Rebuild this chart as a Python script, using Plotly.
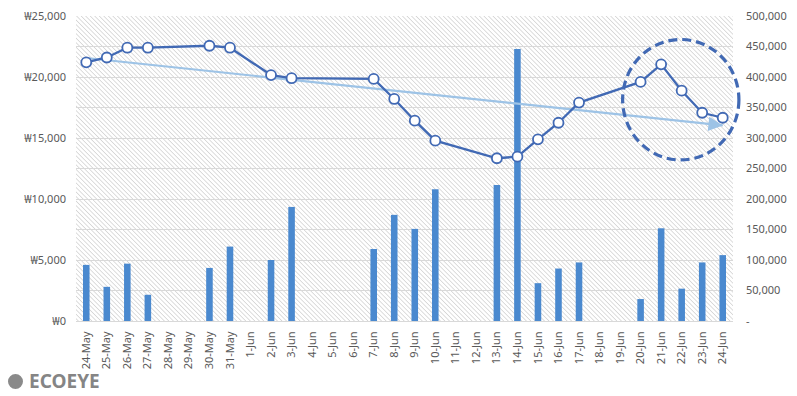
import base64
import numpy as np
import plotly.graph_objects as go

# ---- data ----
dates = ["24-May", "25-May", "26-May", "27-May", "28-May", "29-May", "30-May", "31-May",
         "1-Jun", "2-Jun", "3-Jun", "4-Jun", "5-Jun", "6-Jun", "7-Jun", "8-Jun", "9-Jun",
         "10-Jun", "11-Jun", "12-Jun", "13-Jun", "14-Jun", "15-Jun", "16-Jun", "17-Jun",
         "18-Jun", "19-Jun", "20-Jun", "21-Jun", "22-Jun", "23-Jun", "24-Jun"]

price = [21200, 21600, 22400, 22400, None, None, 22560, 22400,
         None, 20160, 19900, None, None, None, 19840, 18200, 16420,
         14780, None, None, 13340, 13470, 14890, 16250, 17900,
         None, None, 19600, 21040, 18880, 17070, 16660]

volume = [92000, 56000, 94000, 43000, None, None, 87000, 122000,
          None, 100000, 187000, None, None, None, 118000, 174000, 151000,
          216000, None, None, 223000, 446000, 62000, 86000, 96000,
          None, None, 36000, 152000, 53000, 96000, 108000]

left_ticks = [0, 5000, 10000, 15000, 20000, 25000]
left_text = ["₩0", "₩5,000", "₩10,000", "₩15,000", "₩20,000", "₩25,000"]
right_ticks = [0, 50000, 100000, 150000, 200000, 250000, 300000, 350000, 400000, 450000, 500000]
right_text = ["-", "50,000", "100,000", "150,000", "200,000", "250,000", "300,000",
              "350,000", "400,000", "450,000", "500,000"]

# ---- linear trend of price (by category index) ----
idx = np.array([i for i, v in enumerate(price) if v is not None], dtype=float)
vals = np.array([v for v in price if v is not None], dtype=float)
slope, intercept = np.polyfit(idx, vals, 1)
trend_x = [0, len(dates) - 1]
trend_y = [intercept + slope * x for x in trend_x]

FONT = "Noto Sans, DejaVu Sans, Noto Sans CJK KR"
TICK_COL = "#595959"
LINE_COL = "#4169B4"
TREND_COL = "#9DC3E6"
BAR_COL = "#4A89CF"

# plot area size in px (for hatch background)
W, H = 657, 305
svg = f'''<svg xmlns="http://www.w3.org/2000/svg" width="{W}" height="{H}" viewBox="0 0 {W} {H}" preserveAspectRatio="none">
<defs><pattern id="h" width="3.2" height="3.2" patternUnits="userSpaceOnUse" patternTransform="rotate(-45)">
<line x1="0" y1="0" x2="0" y2="3.2" stroke="#c2c2c2" stroke-width="1.1"/></pattern></defs>
<rect width="{W}" height="{H}" fill="white"/><rect width="{W}" height="{H}" fill="url(#h)"/></svg>'''
hatch_src = "data:image/svg+xml;base64," + base64.b64encode(svg.encode()).decode()

fig = go.Figure()

fig.add_trace(go.Bar(
    x=dates, y=volume, yaxis="y", width=0.32,
    marker=dict(color=BAR_COL, line=dict(width=0)),
    showlegend=False, hoverinfo="x+y",
))

fig.add_trace(go.Scatter(
    x=[dates[i] for i in trend_x], y=trend_y, yaxis="y2", mode="lines",
    line=dict(color=TREND_COL, width=2.2), showlegend=False, hoverinfo="skip",
))

fig.add_trace(go.Scatter(
    x=dates, y=price, yaxis="y2", mode="lines+markers", connectgaps=True,
    line=dict(color=LINE_COL, width=2.3),
    marker=dict(symbol="circle", size=10, color="white", line=dict(color=LINE_COL, width=1.8)),
    showlegend=False,
))

# arrow head at the end of the trend line
fig.add_annotation(
    x=trend_x[1], y=trend_y[1], xref="x", yref="y2",
    ax=trend_x[1] - 0.6, ay=intercept + slope * (trend_x[1] - 0.6), axref="x", ayref="y2",
    showarrow=True, arrowhead=2, arrowsize=1.3, arrowwidth=2.2, arrowcolor=TREND_COL, text="",
)

# dashed highlight circle
fig.add_shape(type="circle", xref="paper", yref="paper",
              x0=0.832, x1=1.009, y0=0.528, y1=0.923,
              line=dict(color="#4169B4", width=3.2, dash="9px,5px"), layer="above")

# logo
fig.add_shape(type="circle", xref="paper", yref="paper",
              x0=-0.1035, x1=-0.0807, y0=-0.223, y1=-0.174,
              fillcolor="#8a8a8a", line=dict(width=0))
fig.add_annotation(text="<b>ECOEYE</b>", xref="paper", yref="paper",
                   x=-0.074, y=-0.198, xanchor="left", yanchor="middle", showarrow=False,
                   font=dict(family=FONT, size=19, color="#858585"))

fig.add_layout_image(dict(source=hatch_src, xref="paper", yref="paper", x=0, y=1,
                          sizex=1, sizey=1, sizing="stretch", layer="below",
                          xanchor="left", yanchor="top"))

fig.update_layout(
    width=797, height=396,
    margin=dict(l=76, r=64, t=16, b=75, autoexpand=False),
    paper_bgcolor="white", plot_bgcolor="rgba(0,0,0,0)",
    font=dict(family=FONT, size=11, color=TICK_COL),
    bargap=0.6,
    xaxis=dict(type="category", categoryorder="array", categoryarray=dates,
               tickangle=-90, showgrid=False, showline=True, linecolor="#d9d9d9",
               linewidth=1, ticks="", tickfont=dict(size=11, color=TICK_COL),
               ticklabelstandoff=5, range=[-0.5, len(dates) - 0.5], automargin=False),
    yaxis=dict(side="right", range=[0, 500000], tickvals=right_ticks, ticktext=right_text,
               showgrid=True, gridcolor="#d9d9d9", gridwidth=1, zeroline=False,
               ticks="", tickfont=dict(size=11, color=TICK_COL), ticklabelstandoff=12,
               automargin=False),
    yaxis2=dict(side="left", overlaying="y", range=[0, 25000], tickvals=left_ticks,
                ticktext=left_text, showgrid=False, zeroline=False,
                ticks="", tickfont=dict(size=11, color=TICK_COL), ticklabelstandoff=9,
                automargin=False),
)

post = ("document.body.style.margin='0';document.body.style.padding='0';"
        "var d=document.getElementById('{plot_id}');"
        "d.style.position='absolute';d.style.left='0px';d.style.top='0px';")
fig.write_html("out.html", post_script=post, config={"displayModeBar": False})
